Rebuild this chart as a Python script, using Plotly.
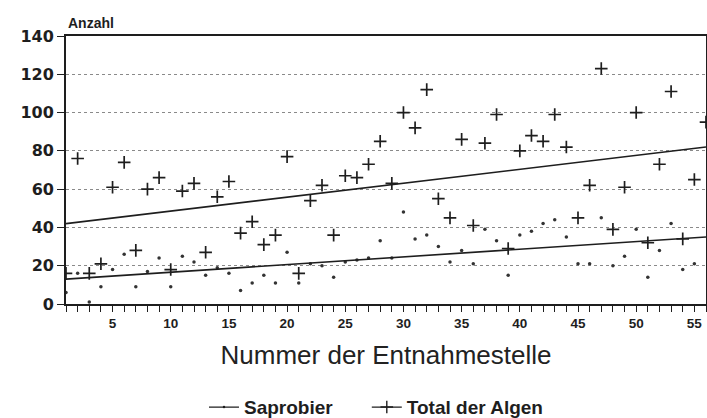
import plotly.graph_objects as go

# ---- data ----
stelle = list(range(1, 57))
total_algen = [16, 76, 16, 21, 61, 74, 28, 60, 66, 18, 59, 63, 27, 56, 64, 37, 43, 31, 36, 77,
               16, 54, 62, 36, 67, 66, 73, 85, 63, 100, 92, 112, 55, 45, 86, 41, 84, 99, 29, 80,
               88, 85, 99, 82, 45, 62, 123, 39, 61, 100, 32, 73, 111, 34, 65, 95]
saprobier = [6, 16, 1, 9, 18, 26, 9, 17, 24, 9, 25, 22, 15, 19, 16, 7, 11, 15, 11, 27,
             11, 21, 20, 14, 22, 23, 24, 33, 24, 48, 34, 36, 30, 22, 28, 21, 39, 33, 15, 36,
             38, 42, 44, 35, 21, 21, 45, 20, 25, 39, 14, 28, 42, 18, 21, None]
trend_x = [1, 56]
trend_total = [42, 82]
trend_saprobier = [13, 35]
y_ticks = [0, 20, 40, 60, 80, 100, 120, 140]
x_ticks = [5, 10, 15, 20, 25, 30, 35, 40, 45, 50, 55]

INK = "#1e1e1e"
fig = go.Figure()

# Saprobier points + trend
fig.add_trace(go.Scatter(x=stelle, y=saprobier, mode="markers", showlegend=False,
                         marker=dict(symbol="circle", size=3.5, color="#333333"),
                         cliponaxis=False))
fig.add_trace(go.Scatter(x=trend_x, y=trend_saprobier, mode="lines", showlegend=False,
                         line=dict(color=INK, width=1.6)))
# Total points + trend
fig.add_trace(go.Scatter(x=stelle, y=total_algen, mode="markers", showlegend=False,
                         marker=dict(symbol="cross-thin", size=9,
                                     line=dict(color=INK, width=1.7)),
                         cliponaxis=True))
fig.add_trace(go.Scatter(x=trend_x, y=trend_total, mode="lines", showlegend=False,
                         line=dict(color=INK, width=1.6)))

# legend entries
fig.add_trace(go.Scatter(x=[None], y=[None], mode="lines+markers", name="Saprobier",
                         legend="legend",
                         line=dict(color=INK, width=1.2),
                         marker=dict(symbol="circle", size=2.5, color=INK)))
fig.add_trace(go.Scatter(x=[None], y=[None], mode="lines+markers", name="Total der Algen",
                         legend="legend2",
                         line=dict(color=INK, width=1.2),
                         marker=dict(symbol="cross-thin", size=9,
                                     line=dict(color=INK, width=1.4))))

legend_font = dict(family="Liberation Sans", size=19, color=INK, weight="bold")
fig.update_layout(
    width=707, height=418,
    margin=dict(l=66, r=1, t=36, b=114, autoexpand=False),
    paper_bgcolor="white", plot_bgcolor="white",
    showlegend=True,
    legend=dict(orientation="h", xref="paper", yref="paper",
                x=0.2156, xanchor="left", y=-0.385, yanchor="middle",
                font=legend_font, itemwidth=30, bgcolor="rgba(0,0,0,0)"),
    legend2=dict(orientation="h", xref="paper", yref="paper",
                 x=0.47, xanchor="left", y=-0.385, yanchor="middle",
                 font=legend_font, itemwidth=30, bgcolor="rgba(0,0,0,0)"),
    font=dict(family="Liberation Sans", color=INK),
)

fig.update_xaxes(
    range=[1, 56], tickmode="array", tickvals=x_ticks, automargin=False,
    ticks="outside", ticklen=6, tickwidth=1.2, tickcolor=INK,
    minor=dict(dtick=1, tick0=0, ticks="outside", ticklen=6, tickwidth=1.2, tickcolor=INK),
    showgrid=False, zeroline=False,
    showline=True, linecolor=INK, linewidth=1.8, mirror=True,
    tickfont=dict(family="Liberation Sans", size=13.5, color=INK, weight="bold"),
    title=dict(text="Nummer der Entnahmestelle", standoff=16,
               font=dict(family="Liberation Sans", size=26, color="#222222")),
)
fig.update_yaxes(
    range=[0, 140], tickmode="array", tickvals=y_ticks, automargin=False,
    ticks="outside", ticklen=7, tickwidth=1.4, tickcolor=INK,
    showgrid=True, gridcolor="#8a8a8a", griddash="dot", gridwidth=1.2,
    zeroline=False,
    showline=True, linecolor=INK, linewidth=1.8, mirror=True,
    tickfont=dict(family="DejaVu Sans", size=16, color=INK, weight="bold"),
)

fig.add_annotation(text="<b>Anzahl</b>", xref="paper", yref="paper", x=0, y=1,
                   xanchor="left", yanchor="bottom", yshift=3, showarrow=False,
                   font=dict(family="Liberation Sans", size=14, color=INK))

fig.write_html("out.html", config={"displayModeBar": False},
               post_script="document.body.style.margin='0';document.body.style.overflow='hidden';")
